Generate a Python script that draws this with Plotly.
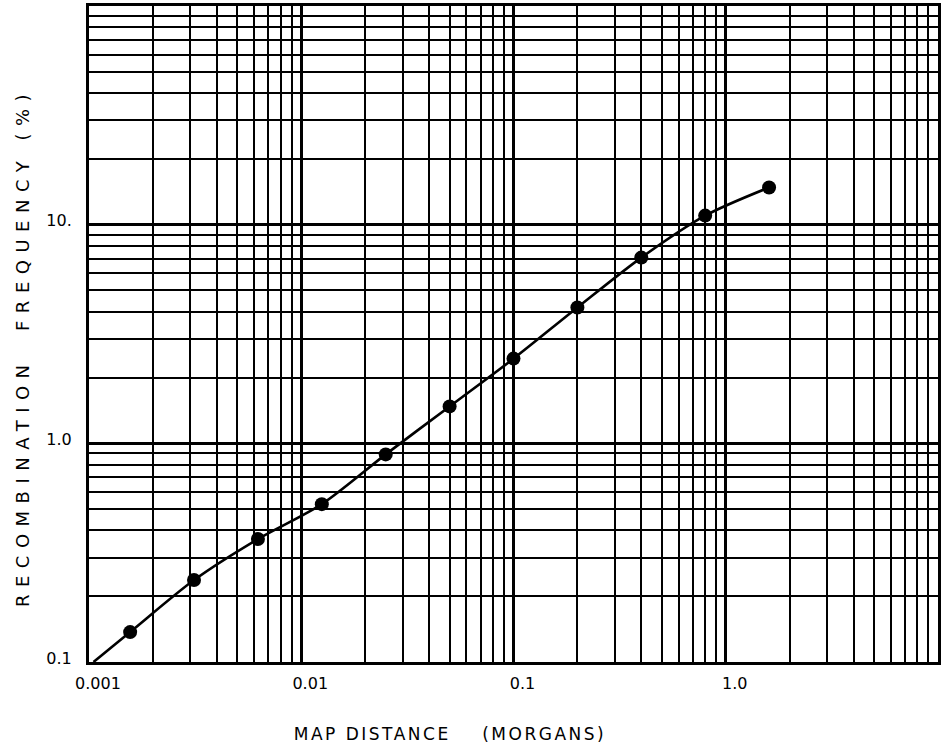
import plotly.graph_objects as go

# Data (map distance in Morgans, recombination frequency in %)
map_distance = [0.0015625, 0.003125, 0.00625, 0.0125, 0.025, 0.05, 0.1, 0.2, 0.4, 0.8, 1.6]
recomb_freq = [0.137, 0.237, 0.365, 0.527, 0.89, 1.475, 2.44, 4.18, 7.07, 11.0, 14.8]

# start of the fitted curve (lower-left corner of the grid)
curve_start_x = [0.00105]
curve_start_y = [0.1]

x_tickvals = [0.001, 0.01, 0.1, 1.0]
x_ticktext = ["0.001", "0.01", "0.1", "1.0"]
y_tickvals = [0.1, 1.0, 10.0]
y_ticktext = ["0.1", "1.0", "10."]

x_title = "MAP DISTANCE    (MORGANS)"
y_title = "RECOMBINATION  FREQUENCY (%)"

FONT = "DejaVu Sans"

fig = go.Figure()
fig.add_trace(go.Scatter(
    x=curve_start_x + map_distance,
    y=curve_start_y + recomb_freq,
    mode="lines",
    line=dict(color="black", width=2.6, shape="spline", smoothing=0.8),
    hoverinfo="skip",
    showlegend=False,
))
fig.add_trace(go.Scatter(
    x=map_distance,
    y=recomb_freq,
    mode="markers",
    marker=dict(color="black", size=14),
    showlegend=False,
))

axis_common = dict(
    type="log",
    showgrid=True,
    gridcolor="black",
    gridwidth=3,
    showline=True,
    linecolor="black",
    linewidth=3,
    mirror=True,
    ticks="",
    zeroline=False,
    minor=dict(showgrid=True, gridcolor="black", gridwidth=1.6, dtick="D1", ticks=""),
    tickfont=dict(family=FONT, size=16, color="black"),
)

fig.update_xaxes(
    **axis_common,
    range=[-3, 1],
    tickvals=x_tickvals,
    ticktext=x_ticktext,
    ticklabelshift=9,
    ticklabelstandoff=5,
)
fig.update_yaxes(
    **axis_common,
    range=[-1, 2],
    tickvals=y_tickvals,
    ticktext=y_ticktext,
    ticklabelstandoff=11,
    ticklabelshift=-4,
)

fig.add_annotation(
    text=x_title, xref="paper", yref="paper", x=0.425, y=-0.11,
    xanchor="center", yanchor="middle", showarrow=False,
    font=dict(family=FONT, size=17, color="black"),
)
fig.add_annotation(
    text=y_title, xref="paper", yref="paper", x=-0.079, y=0.48,
    xanchor="center", yanchor="middle", showarrow=False, textangle=-90,
    font=dict(family=FONT, size=18, color="black"),
)

fig.update_layout(
    width=944,
    height=752,
    margin=dict(l=89, r=3, t=6, b=90),
    plot_bgcolor="white",
    paper_bgcolor="white",
    showlegend=False,
)

post = """
document.documentElement.style.margin = '0';
document.documentElement.style.padding = '0';
document.body.style.margin = '0';
document.body.style.padding = '0';
document.body.style.overflow = 'hidden';
var gd = document.getElementById('{plot_id}');
function spaceTitles(){
  var anns = gd.querySelectorAll('.annotation-text');
  anns.forEach(function(t){
    var s = t.textContent;
    if (s.indexOf('RECOMBINATION') === 0) { t.setAttribute('letter-spacing', '7.5px'); }
    else if (s.indexOf('MAP') === 0) { t.setAttribute('letter-spacing', '2.5px'); }
  });
}
spaceTitles();
if (gd.on) { gd.on('plotly_afterplot', spaceTitles); }
"""

fig.write_html("out.html", post_script=post, config={"displayModeBar": False})
